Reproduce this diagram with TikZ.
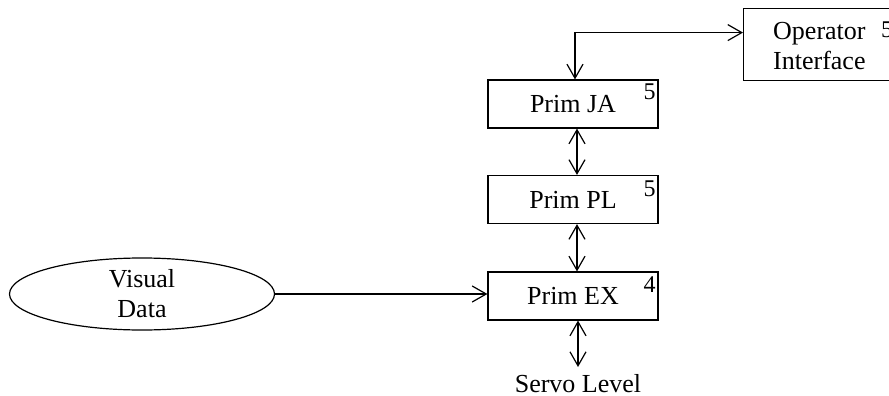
\documentclass[tikz,border=0pt]{standalone}
\usepackage{fontspec}
\setmainfont{Liberation Serif}
\usetikzlibrary{arrows.meta,shapes.geometric}
\tikzset{
  txt/.style={font=\fontsize{26}{30}\selectfont},
  prim/.style={txt, draw, rectangle, line width=1.2pt, minimum width=170pt,
    minimum height=48pt, inner sep=0pt},
  lvl/.style={font=\fontsize{24}{28}\selectfont, inner sep=0pt},
  link/.style={line width=1.2pt},
}
\begin{document}
\begin{tikzpicture}[x=1pt,y=-1pt,
  >={Straight Barb[length=14pt,width=16pt,line width=1.2pt]}]
\useasboundingbox (0,0) rectangle (889,396);
\clip (0,0) rectangle (889,396);

% primitive levels
\node[prim] (ja) at (573,104) {Prim JA};
\node[prim] (pl) at (573,199.5) {Prim PL};
\node[prim] (ex) at (573,296) {Prim EX};
\node[lvl] (jan) at ([xshift=-9pt,yshift=-12.5pt]ja.north east) {5};
\node[lvl] (pln) at ([xshift=-9pt,yshift=-13.5pt]pl.north east) {5};
\node[lvl] (exn) at ([xshift=-9pt,yshift=-13.5pt]ex.north east) {4};

% operator interface (runs past the right edge)
\node[draw, line width=1.2pt, minimum width=152pt, minimum height=72pt,
  inner sep=0pt, anchor=north west] (op) at (743,8) {};
\node[txt, anchor=west, align=left, inner sep=0pt] (optext) at (773,46)
  {Operator\\Interface};
\node[lvl] (opn) at ([xshift=-9pt,yshift=-21.5pt]op.north east) {5};

% visual data source
\node[txt, draw, ellipse, line width=1.2pt, minimum width=265pt,
  minimum height=72pt, inner sep=0pt, align=center] (vis) at (142,294)
  {Visual\\Data};

% servo level
\node[txt, anchor=north, inner xsep=0pt, inner ysep=7pt] (servo) at (578,367)
  {Servo Level};

% connectors
\draw[link,<->] ([xshift=2pt]ja.north) |- ([yshift=12pt]op.west);
\draw[link,<->] ([xshift=4pt]ja.south) -- ([xshift=4pt]pl.north);
\draw[link,<->] ([xshift=4pt]pl.south) -- ([xshift=4pt]ex.north);
\draw[link,->] (vis.east) -- (vis.east -| ex.west);
\draw[link,<->] ([xshift=5pt]ex.south) -- (servo.north);
\end{tikzpicture}
\end{document}
